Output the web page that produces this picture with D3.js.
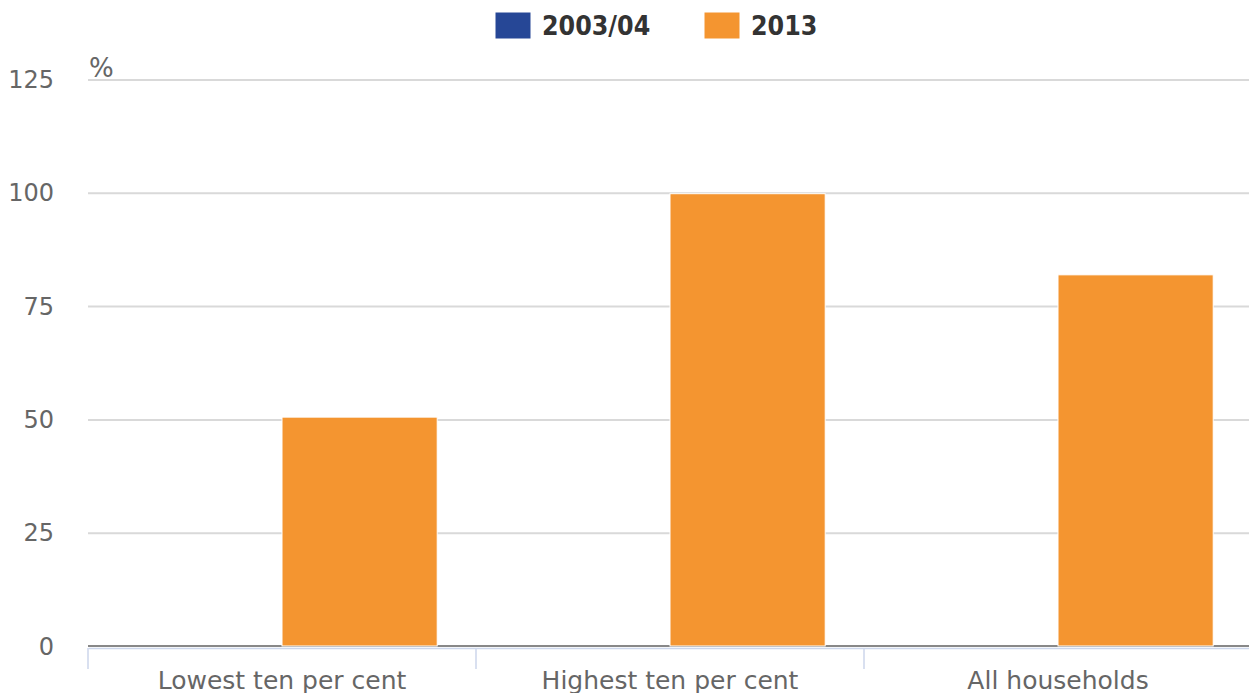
<!DOCTYPE html>
<html>
<head>
<meta charset="utf-8">
<script src="https://cdn.jsdelivr.net/npm/d3@7"></script>
<style>
  html, body { margin: 0; padding: 0; background: #fff; }
  svg { display: block; }
  svg text { font-family: "DejaVu Sans", sans-serif; }
</style>
</head>
<body>
<svg id="chart" width="1249" height="693"></svg>
<script>
// Household groups and the share (%) for each survey year
const categories = ["Lowest ten per cent", "Highest ten per cent", "All households"];
const seriesNames = ["2003/04", "2013"];
const values2003 = [0, 0, 0];
const values2013 = [50.5, 99.8, 81.9];
const yTicks = [0, 25, 50, 75, 100, 125];
const colors = ["#264796", "#f49530"];

const svg = d3.select("#chart");
const plot = { left: 88, right: 1252, top: 79.5, bottom: 646 };

const x = d3.scaleBand().domain(categories).range([plot.left, plot.right]).padding(0);
// Each group leaves 10% of the band empty on either side
const xSeries = d3.scaleBand().domain(seriesNames)
  .range([0.1 * x.bandwidth(), 0.9 * x.bandwidth()]).padding(0);
const y = d3.scaleLinear().domain([0, 125]).range([plot.bottom, plot.top]);

// Horizontal gridlines and value labels
const yAxis = d3.axisLeft(y).tickValues(yTicks).tickSize(-(plot.right - plot.left)).tickPadding(34).tickFormat(d3.format("d"));
const gy = svg.append("g").attr("transform", `translate(${plot.left},0)`).call(yAxis)
  .attr("font-family", null).attr("font-size", null);
gy.select(".domain").remove();
gy.selectAll(".tick line").attr("stroke", "#d9d9d9").attr("stroke-width", 2);
gy.selectAll(".tick text").attr("fill", "#666").attr("font-size", 24).attr("dy", "0.34em");
gy.selectAll(".tick").filter(d => d === 0).select("line").attr("stroke", "none");

// Unit label
svg.append("text").attr("x", plot.left + 1).attr("y", 77).attr("fill", "#666").attr("font-size", 26).text("%");

// Category axis
const xAxis = d3.axisBottom(x).tickSize(0).tickPadding(23);
const gx = svg.append("g").attr("transform", `translate(0,${plot.bottom + 2})`).call(xAxis)
  .attr("font-family", null).attr("font-size", null);
gx.select(".domain").attr("stroke", "#ccd6eb").attr("stroke-width", 1.5);
gx.selectAll(".tick text").attr("fill", "#666").attr("font-size", 25);
// Boundary ticks between groups
gx.selectAll(".sep").data(categories).join("line").attr("class", "sep")
  .attr("x1", d => x(d)).attr("x2", d => x(d)).attr("y1", 0).attr("y2", 21)
  .attr("stroke", "#ccd6eb").attr("stroke-width", 1.5);

// Zero line
svg.append("line").attr("x1", plot.left).attr("x2", plot.right)
  .attr("y1", y(0)).attr("y2", y(0)).attr("stroke", "#888").attr("stroke-width", 2);

// Bars
const rows = categories.map((c, i) => ({ c, vals: [values2003[i], values2013[i]] }));
const groups = svg.append("g").selectAll("g").data(rows).join("g")
  .attr("transform", d => `translate(${x(d.c)},0)`);
groups.selectAll("rect").data(d => d.vals.map((v, j) => ({ v, s: seriesNames[j], j })))
  .join("rect")
  .attr("x", d => xSeries(d.s))
  .attr("width", xSeries.bandwidth())
  .attr("y", d => y(d.v))
  .attr("height", d => y(0) - y(d.v))
  .attr("fill", d => colors[d.j])
  .attr("stroke", "#fff").attr("stroke-width", 1);

// Legend
const legendItems = [{ name: seriesNames[0], x: 495 }, { name: seriesNames[1], x: 704 }];
const lg = svg.append("g").selectAll("g").data(legendItems).join("g")
  .attr("transform", d => `translate(${d.x},12)`);
lg.append("rect").attr("width", 36).attr("height", 27)
  .attr("fill", (d, i) => colors[i]).attr("stroke", "#fff").attr("stroke-width", 1);
lg.append("text").attr("x", 47).attr("y", 23).attr("fill", "#333")
  .attr("font-size", 26.5).attr("font-weight", "bold")
  .style("font-family", "'DejaVu Sans Condensed', 'DejaVu Sans', sans-serif")
  .text(d => d.name);
</script>
</body>
</html>
